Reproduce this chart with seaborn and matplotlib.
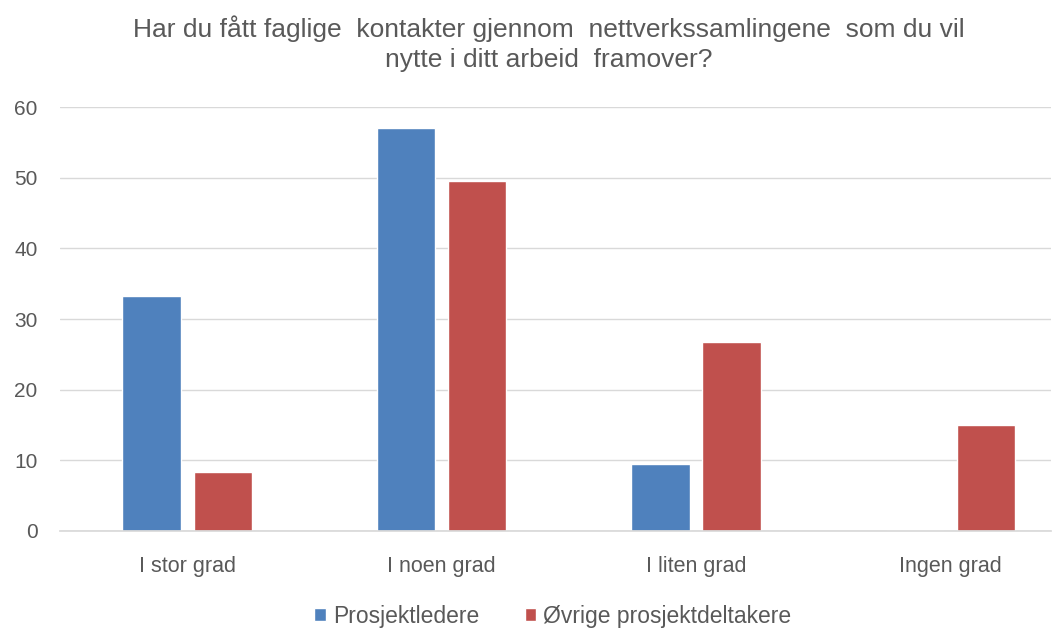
import matplotlib
matplotlib.use("Agg")
import matplotlib.pyplot as plt
import seaborn as sns
import pandas as pd

categories = ["I stor grad", "I noen grad", "I liten grad", "Ingen grad"]
series_names = ["Prosjektledere", "Øvrige prosjektdeltakere"]
prosjektledere = [33.3, 57.1, 9.5, 0.0]
ovrige = [8.3, 49.6, 26.7, 15.0]
yticks = [0, 10, 20, 30, 40, 50, 60]
title = ("Har du fått faglige  kontakter gjennom  nettverkssamlingene  som du vil\n"
         "nytte i ditt arbeid  framover?")

colors = ["#4F81BD", "#C0504D"]
text_color = "#595959"

df = pd.DataFrame({
    "kategori": categories * 2,
    "gruppe": [series_names[0]] * len(categories) + [series_names[1]] * len(categories),
    "verdi": prosjektledere + ovrige,
})

sns.set_theme(style="white")
plt.rcParams["font.family"] = ["Liberation Sans", "DejaVu Sans"]

fig = plt.figure(figsize=(10.63, 6.28), dpi=100)
ax = fig.add_axes([0.0564, 0.1545, 0.932, 0.675])

sns.barplot(data=df, x="kategori", y="verdi", hue="gruppe",
            palette=colors, width=0.56, gap=0.18, ax=ax,
            saturation=1, legend=True)

ax.set_ylim(0, 60)
ax.set_yticks(yticks)
ax.set_xlim(-0.5, 3.394)
ax.yaxis.grid(True, color="#D9D9D9", linewidth=1)
ax.set_axisbelow(True)
for s in ["top", "right", "left"]:
    ax.spines[s].set_visible(False)
ax.spines["bottom"].set_color("#D9D9D9")
ax.set_xlabel("")
ax.set_ylabel("")
ax.tick_params(axis="y", length=0, pad=16, labelsize=15, labelcolor=text_color)
ax.tick_params(axis="x", length=0, pad=18, labelsize=15.5, labelcolor=text_color)

handles, labels = ax.get_legend_handles_labels()
ax.get_legend().remove()
fig.legend(handles, labels, loc="lower center", bbox_to_anchor=(0.52, -0.033),
           ncol=2, frameon=False, fontsize=16.5, labelcolor=text_color,
           handlelength=0.5, handleheight=0.5, handletextpad=0.3, columnspacing=2.0)

fig.suptitle(title, x=0.516, y=0.975, fontsize=19, color=text_color, linespacing=1.3)

fig.savefig("out.png", dpi=100, facecolor="white")
